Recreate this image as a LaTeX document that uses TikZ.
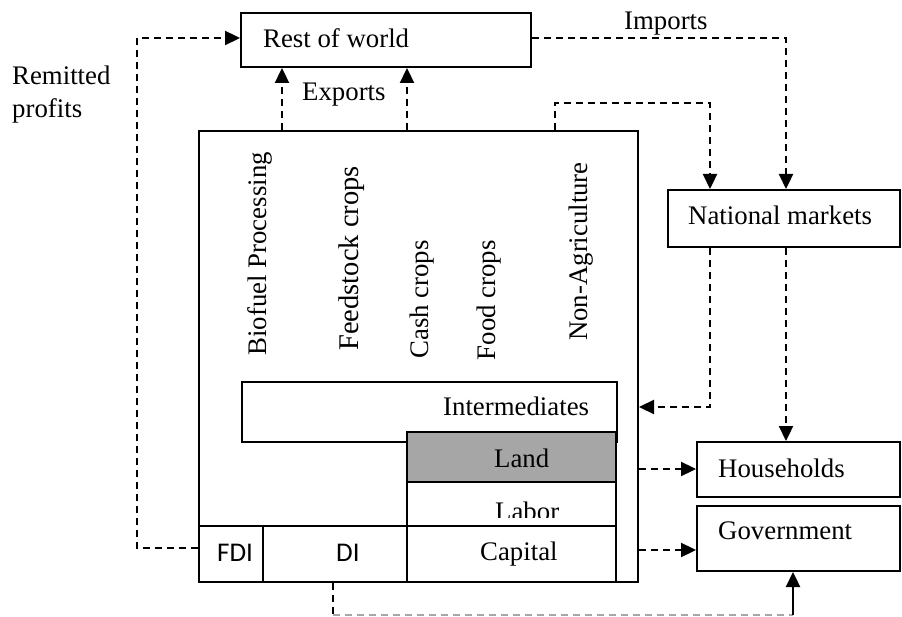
\documentclass[tikz,border=0pt]{standalone}
\usepackage{fontspec}
\setmainfont{Liberation Serif}
\newfontfamily\cfont{Carlito}
\usetikzlibrary{arrows.meta,fit}
\begin{document}
\begin{tikzpicture}[x=1pt,y=-1pt,
  box/.style={draw=black,line width=2pt,inner sep=0pt},
  dsh/.style={line width=2.3pt,dash pattern=on 7pt off 5pt},
  gdsh/.style={line width=1.6pt,draw=black!35,dash pattern=on 7pt off 5pt},
  arr/.style={-{Triangle[length=15pt,width=14pt]}},
  lbl/.style={inner sep=0pt,font=\fontsize{26.8pt}{30pt}\selectfont},
  rot/.style={lbl,rotate=90,anchor=base east},
  sf/.style={inner sep=0pt,font=\cfont\fontsize{27pt}{30pt}\selectfont}]
\useasboundingbox (0,0) rectangle (902,617);
% boxes
\node[box,fit={(241,13) (531,67)}] (row) {};
\node[box,fit={(668,190) (900,247)}] (nm) {};
\node[box,fit={(697,442) (900,497)}] (hh) {};
\node[box,fit={(697,506) (900,571)}] (gov) {};
\node[box,fit={(199,131) (638,582)}] (big) {};
\node[box,fit={(242,382) (617,442)}] (inter) {};
\node[box,fill=black!35,fit={(407,432) (616,482)}] (land) {};
\node[box,fit={(407,482) (616,526)}] (labor) {};
\node[box,fit={(199,526) (263,582)}] (fdi) {};
\node[box,fit={(263,526) (407,582)}] (di) {};
\node[box,fit={(407,526) (616,582)}] (cap) {};
% texts
\node[lbl,anchor=base west] (trow) at (263,48) {Rest of world};
\node[lbl,anchor=base west] (tnm) at (688,225) {National markets};
\node[lbl,anchor=base west] (thh) at (718,477) {Households};
\node[lbl,anchor=base west] (tgov) at (718,539) {Government};
\node[lbl,anchor=base west] (tint) at (443,415) {Intermediates};
\node[lbl,anchor=base west] (tland) at (494,467) {Land};
\begin{scope}
\clip (407,482) rectangle (616,517);
\node[lbl,anchor=base west] (tlab) at (495,520) {Labor};
\end{scope}
\node[lbl,anchor=base west] (tcap) at (480,560) {Capital};
\node[sf,anchor=base west] (tfdi) at (217,561) {FDI};
\node[sf,anchor=base west] (tdi) at (336,561) {DI};
\node[lbl,anchor=base west] (texp) at (302,101) {Exports};
\node[lbl,anchor=base west] (timp) at (624,30) {Imports};
\node[lbl,anchor=base west] (trem) at (12,85) {Remitted};
\node[lbl,anchor=base west] (trem2) at (12,118) {profits};
% rotated sector labels
\node[rot] (s1) at (266.5,152) {Biofuel Processing};
\node[rot,font=\fontsize{28.5pt}{31pt}\selectfont] (s2) at (358,166) {Feedstock crops};
\node[rot] (s3) at (428,240) {Cash crops};
\node[rot] (s4) at (495,240) {Food crops};
\node[rot] (s5) at (587,162) {Non-Agriculture};
% helper coordinates
\coordinate (c1) at (282,0);
\coordinate (c2) at (407,0);
\coordinate (rp) at (137,38);
\coordinate (ximp) at (786,38);
\coordinate (k1) at (555,103);
\coordinate (k2) at (710,0);
\coordinate (k3) at (0,407);
\coordinate (kh) at (0,469);
\coordinate (k4) at (0,550);
\coordinate (k6) at (333,615);
\coordinate (k7) at (793,615);
% connectors
\draw[dsh,arr] ([yshift=6pt]fdi.west) -| (rp) -- (row.west |- rp);
\draw[dsh,arr] (big.north -| c1) -- (row.south -| c1);
\draw[dsh,arr] (big.north -| c2) -- (row.south -| c2);
\draw[dsh,arr] (row.east |- ximp) -- (ximp) -- (nm.north -| ximp);
\draw[dsh,arr] (big.north -| k1) -- (k1) -| (nm.north -| k2);
\draw[dsh,arr] (nm.south -| k2) |- (big.east |- k3);
\draw[dsh,arr] (nm.south -| ximp) -- (hh.north -| ximp);
\draw[dsh,arr] (big.east |- kh) -- (hh.west |- kh);
\draw[dsh,arr] (big.east |- k4) -- (gov.west |- k4);
\draw[dsh] (di.south -| k6) -- (k6);
\draw[gdsh] (k6) -- (k7);
\draw[line width=2.3pt,arr] (k7) -- (gov.south -| k7);
\end{tikzpicture}
\end{document}
